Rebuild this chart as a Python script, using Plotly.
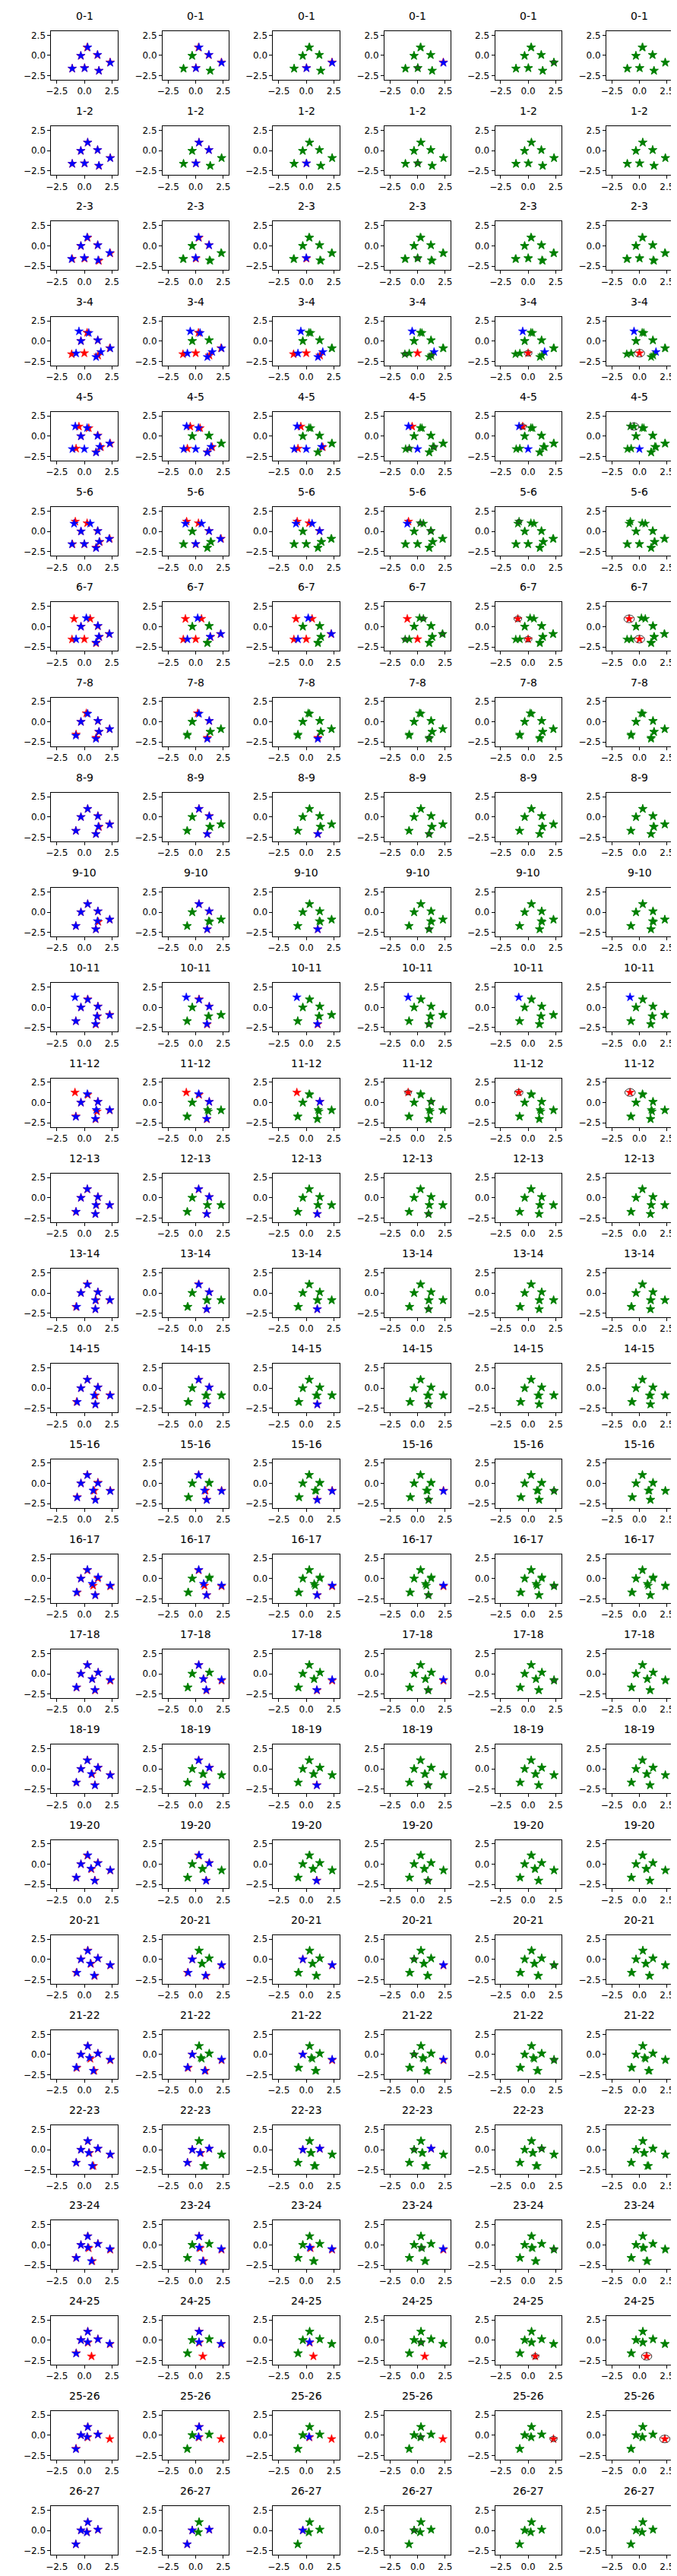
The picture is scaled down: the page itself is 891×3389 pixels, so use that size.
import plotly.graph_objects as go

# ---------------- data ----------------
ROW_TITLES = ["0-1", "1-2", "2-3", "3-4", "4-5", "5-6", "6-7", "7-8", "8-9", "9-10",
              "10-11", "11-12", "12-13", "13-14", "14-15", "15-16", "16-17", "17-18",
              "18-19", "19-20", "20-21", "21-22", "22-23", "23-24", "24-25", "25-26", "26-27"]
N_COLS = 6
TICKS = [-2.5, 0.0, 2.5]
TICK_TEXT = ["\u22122.5", "0.0", "2.5"]

# point tracks, one value per frame 0..27 (None = point absent in that frame)
A_X = [-1.10, -1.10, -1.10, -1.15, -0.75, -1.08, -1.12, -0.75, -0.77, -0.77, -0.77, -0.77, -0.77, -0.75,
       -0.70, -0.65, -0.65, -0.70, -0.72, -0.73, -0.73, -0.68, -0.73, -0.75, -0.73, -0.75, -0.77, -0.77]
A_Y = [-1.62, -1.62, -1.62, -1.62, -1.52, -1.58, -1.58, -1.56, -1.70, -1.70, -1.70, -1.70, -1.75, -1.72,
       -1.70, -1.70, -1.73, -1.70, -1.68, -1.67, -1.65, -1.65, -1.60, -1.60, -1.60, -1.65, -1.70, -1.70]
B_X = [0.02, 0.02, 0.02, 0.00, None, 0.00, 0.00, None, None, None, None, None, None, None,
       None, None, None, None, None, None, None, None, None, None, None, None, None, None]
B_Y = [-1.55, -1.57, -1.57, -1.50, None, -1.58, -1.55, None, None, None, None, None, None, None,
       None, None, None, None, None, None, None, None, None, None, None, None, None, None]
C_X = [0.25, 0.30, 0.30, 0.25, 0.40, 0.25, 0.53, 0.18, 0.30, 0.30, 0.30, 0.31, 0.27, 0.27,
       0.28, 0.27, 0.27, 0.28, 0.28, 0.27, 0.31, 0.31, 0.31, 0.31, 0.31, 0.31, 0.31, 0.31]
C_Y = [0.98, 1.00, 1.00, 1.03, 1.00, 1.02, 0.97, 1.05, 1.00, 1.00, 1.00, 0.96, 1.05, 1.07,
       1.05, 1.05, 1.02, 1.08, 1.08, 1.06, 1.10, 1.05, 1.05, 1.08, 1.06, 1.04, 1.03, 1.03]
D_X = [-0.32, -0.32, -0.32, -0.31, -0.31, -0.31, -0.30, -0.31, -0.31, -0.31, -0.31, -0.31, -0.31, -0.31,
       -0.31, -0.31, -0.31, -0.31, -0.31, -0.31, -0.31, -0.31, -0.31, -0.31, -0.31, -0.31, -0.31, -0.31]
D_Y = [-0.05, -0.03, -0.02, 0.00, 0.00, 0.00, 0.00, 0.00, 0.00, 0.00, 0.00, 0.00, 0.00, 0.00,
       0.00, 0.00, 0.00, 0.00, 0.00, 0.00, 0.00, 0.00, 0.00, 0.00, 0.00, 0.00, 0.02, 0.02]
E_X = [1.18, 1.20, 1.20, 1.22, 1.22, 1.20, 1.22, 1.23, 1.23, 1.23, 1.23, 1.23, 1.23, 1.23,
       1.23, 1.23, 1.23, 1.25, 1.25, 1.23, 1.23, 1.23, 1.23, 1.23, 1.23, 1.23, 1.23, 1.23]
E_Y = [0.05, 0.08, 0.08, 0.08, 0.10, 0.05, 0.05, 0.10, 0.12, 0.10, 0.12, 0.10, 0.10, 0.10,
       0.10, 0.10, 0.02, 0.15, 0.15, 0.16, 0.12, 0.12, 0.12, 0.14, 0.12, 0.10, 0.10, 0.12]
F_X = [1.32, 1.32, 1.32, 1.25, 1.06, 1.06, 1.06, 1.06, 1.05, 1.05, 1.04, 1.02, 1.00, 1.00,
       1.00, 1.00, 1.00, 0.98, 0.96, 0.96, 0.94, 0.90, 0.82, 0.72, 0.65, None, None, None]
F_Y = [-1.88, -1.88, -1.85, -1.78, -1.97, -2.00, -2.05, -1.97, -2.10, -2.10, -2.10, -2.05, -2.00, -2.00,
       -2.00, -2.00, -2.05, -2.05, -2.00, -2.02, -2.05, -2.00, -2.00, -2.00, -2.00, None, None, None]
G_X = [2.33, 2.35, 2.35, 2.30, 2.35, 2.30, 2.25, 2.28, 2.30, 2.30, 2.30, 2.30, 2.30, 2.30,
       2.32, 2.35, 2.35, 2.35, 2.35, 2.35, 2.35, 2.35, 2.35, 2.35, 2.32, 2.30, None, None]
G_Y = [-0.85, -0.90, -0.92, -0.88, -0.90, -0.90, -0.92, -0.90, -0.90, -0.92, -0.90, -0.96, -0.92, -0.90,
       -0.88, -0.90, -0.95, -0.85, -0.75, -0.78, -0.75, -0.70, -0.62, -0.58, -0.50, -0.45, None, None]
H_X = [None, None, None, None, -0.49, -0.82, -0.93, None, None, None, None, None, None, None,
       None, None, None, None, None, None, None, None, None, None, None, None, None, None]
H_Y = [None, None, None, None, 1.20, 1.22, 0.96, None, None, None, None, None, None, None,
       None, None, None, None, None, None, None, None, None, None, None, None, None, None]
I_X = [None, None, None, None, 1.50, 1.40, 1.35, 1.32, 1.33, 1.27, 1.19, 1.15, 1.08, 1.05,
       1.00, 0.90, 0.80, 0.72, 0.70, 0.64, 0.60, 0.55, 0.46, 0.40, 0.32, 0.30, 0.25, 0.22]
I_Y = [None, None, None, None, -1.35, -1.30, -1.28, -1.25, -1.22, -1.19, -1.10, -1.10, -0.90, -0.90,
       -0.90, -0.90, -0.88, -0.65, -0.65, -0.62, -0.55, -0.52, -0.40, -0.40, -0.32, -0.25, -0.20, -0.22]
J_X = [None, None, None, None, None, None, None, None, None, None, None, -0.85, None, None,
       None, None, None, None, None, None, None, None, None, None, None, None, None, None]
J_Y = [None, None, None, None, None, None, None, None, None, None, None, 1.25, None, None,
       None, None, None, None, None, None, None, None, None, None, None, None, None, None]

TRACK_NAMES = ["A", "B", "C", "D", "E", "F", "G", "H", "I", "J"]
TRACK_X = [A_X, B_X, C_X, D_X, E_X, F_X, G_X, H_X, I_X, J_X]
TRACK_Y = [A_Y, B_Y, C_Y, D_Y, E_Y, F_Y, G_Y, H_Y, I_Y, J_Y]

# for each row: column (0-based) from which a matched track is drawn green ('.' = never), order A..J
GREEN_FROM = ["1321214...", "1321211...", "1321211...", "3.21132...", "3.2112153.",
              "123131241.", "3.31113.2.", "1.21231.1.", "1.21231.1.", "1.21231.1.",
              "1.21231.1.", "1.21321.1.", "1.21231.1.", "1.21231.1.", "1.21231.1.",
              "1.21134.2.", "1.21134.2.", "1.21134.2.", "1.21231.1.", "1.21231.1.",
              "2.13124.1.", "2.13124.1.", "2.13411.2.", "1.21124.3.", "1.211.2.3.",
              "1.211...3.", "2.132...1."]

# circles: (row, column, track, radius) drawn around the track's position in the earlier frame
CIRCLES = [(0, 3, "B", 0.25), (0, 4, "G", 0.25), (1, 3, "B", 0.25), (2, 3, "B", 0.25),
           (3, 3, "A", 0.25), (3, 3, "F", 0.25), (3, 4, "B", 0.35), (3, 5, "B", 0.47),
           (4, 3, "A", 0.25), (4, 3, "I", 0.25), (4, 4, "H", 0.33), (4, 5, "H", 0.45),
           (5, 3, "C", 0.25), (5, 3, "E", 0.25), (5, 4, "H", 0.25),
           (6, 3, "C", 0.25), (6, 3, "G", 0.25), (6, 3, "A", 0.25), (6, 4, "H", 0.35),
           (6, 4, "B", 0.35), (6, 5, "H", 0.47), (6, 5, "B", 0.47),
           (7, 3, "F", 0.25), (8, 3, "F", 0.25), (9, 3, "F", 0.25), (10, 3, "F", 0.25),
           (11, 3, "J", 0.30), (11, 3, "E", 0.25), (11, 4, "J", 0.38), (11, 5, "J", 0.47),
           (12, 3, "F", 0.25), (13, 3, "F", 0.25), (14, 3, "F", 0.25),
           (15, 3, "F", 0.25), (15, 4, "G", 0.25), (16, 3, "F", 0.25), (16, 4, "G", 0.25),
           (17, 3, "F", 0.25), (17, 4, "G", 0.25), (18, 3, "F", 0.25), (19, 3, "F", 0.25),
           (20, 3, "D", 0.25), (20, 4, "G", 0.25), (21, 3, "D", 0.25), (21, 4, "G", 0.25),
           (22, 3, "D", 0.25), (22, 4, "E", 0.25), (23, 3, "I", 0.25), (23, 4, "G", 0.25),
           (24, 3, "I", 0.25), (24, 4, "F", 0.33), (24, 5, "F", 0.47),
           (25, 3, "I", 0.25), (25, 4, "G", 0.33), (25, 5, "G", 0.47), (26, 3, "D", 0.25)]

# ---------------- layout constants ----------------
W, H = 891, 3389
COL_LEFT = [53, 201, 348, 496, 643, 791]
AX_W, AX_H = 88, 64
ROW_TOP0, ROW_PITCH = 32, 125.35
FONT = "DejaVu Sans"
RED, BLUE, GREEN = "#ff0000", "#0000ff", "#008000"
MSIZE = 8.5

fig = go.Figure()
layout = dict(width=W, height=H, margin=dict(l=0, r=0, t=0, b=0),
              paper_bgcolor="white", plot_bgcolor="white", showlegend=False,
              font=dict(family=FONT, color="black"))
annotations, shapes = [], []


def pos(ti, f):
    x, y = TRACK_X[ti][f], TRACK_Y[ti][f]
    if x is None:
        return None
    return (x, y)


for r, title in enumerate(ROW_TITLES):
    top = ROW_TOP0 + r * ROW_PITCH
    for c in range(N_COLS):
        k = r * N_COLS + c
        sfx = "" if k == 0 else str(k + 1)
        left = COL_LEFT[c]
        ax_common = dict(range=[-3, 3], showgrid=False, zeroline=False, showline=True,
                         mirror=True, linecolor="black", linewidth=1, ticks="outside",
                         ticklen=4, tickwidth=1, tickcolor="black", tickvals=TICKS,
                         ticktext=TICK_TEXT, tickfont=dict(family=FONT, size=12, color="black"),
                         fixedrange=True)
        layout["xaxis" + sfx] = dict(ax_common, domain=[left / W, (left + AX_W) / W],
                                     anchor="y" + sfx)
        layout["yaxis" + sfx] = dict(ax_common, domain=[1 - (top + AX_H) / H, 1 - top / H],
                                     anchor="x" + sfx)
        rx, ry, bx, by, gx, gy = [], [], [], [], [], []
        for ti in range(len(TRACK_NAMES)):
            rp, bp = pos(ti, r), pos(ti, r + 1)
            g = GREEN_FROM[r][ti]
            if rp and bp and g != "." and c >= int(g):
                gx += [rp[0], bp[0]]
                gy += [rp[1], bp[1]]
            else:
                if rp:
                    rx.append(rp[0]); ry.append(rp[1])
                if bp:
                    bx.append(bp[0]); by.append(bp[1])
        for xs, ys, col in ((rx, ry, RED), (bx, by, BLUE), (gx, gy, GREEN)):
            if xs:
                fig.add_trace(go.Scatter(x=xs, y=ys, mode="markers", xaxis="x" + sfx,
                                         yaxis="y" + sfx, hoverinfo="skip",
                                         marker=dict(symbol="star", size=MSIZE, color=col,
                                                     line=dict(width=0.6, color=col))))
        annotations.append(dict(text=title, x=(left + AX_W / 2) / W, y=1 - (top - 20) / H,
                                xref="paper", yref="paper", xanchor="center", yanchor="middle",
                                showarrow=False, font=dict(family=FONT, size=14, color="black")))

for (r, c, name, rad) in CIRCLES:
    k = r * N_COLS + c
    sfx = "" if k == 0 else str(k + 1)
    p = pos(TRACK_NAMES.index(name), r)
    shapes.append(dict(type="circle", xref="x" + sfx, yref="y" + sfx, layer="above",
                       x0=p[0] - rad, x1=p[0] + rad, y0=p[1] - rad, y1=p[1] + rad,
                       line=dict(color="#333333", width=1)))

layout["annotations"] = annotations
layout["shapes"] = shapes
fig.update_layout(**layout)
fig.write_html("out.html")
